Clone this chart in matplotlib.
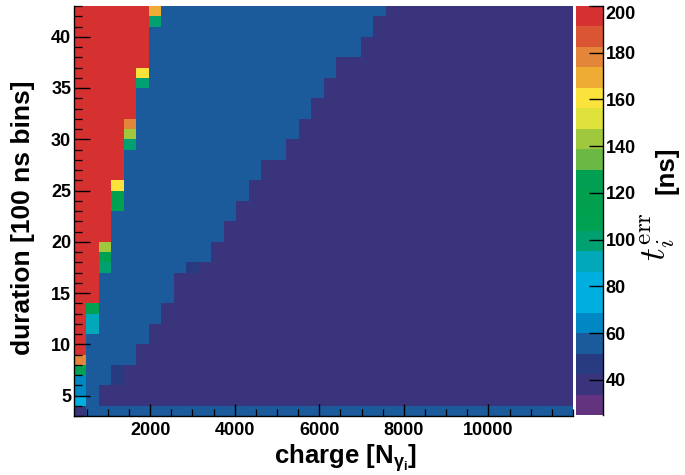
import numpy as np
import matplotlib
matplotlib.use("Agg")
import matplotlib.pyplot as plt
from matplotlib.colors import ListedColormap, BoundaryNorm
from matplotlib.ticker import MultipleLocator

# ---------------- data ----------------
charge_min, charge_max, n_charge_bins = 200, 12000, 40
duration_min, duration_max = 3, 43          # 40 bins of 1 (x100 ns)

# value levels (t_err in ns)
t_saturated = 196   # red, top of scale
t_mid = 55          # blue band
t_low = 38          # dark purple plateau

# per duration row (3..42): number of leading saturated charge bins
red_bins = [0] * 6 + [1] * 5 + [2] * 6 + [3] * 6 + [4] * 6 + [5] * 5 + [6] * 6
# per duration row: first charge bin belonging to the low plateau
plateau_start = [40, 2, 2, 4, 4, 5, 5, 6, 6, 7, 7, 8, 8, 8, 10, 11, 11, 12, 12,
                 13, 13, 14, 14, 15, 15, 17, 17, 18, 18, 19, 19, 20, 20, 21, 21,
                 23, 23, 24, 24, 25]
# individual cells: (charge bin, duration row, value)
cell_bin = [0, 0, 0, 0, 0, 0, 1, 1, 1, 2, 2, 2, 3, 3, 3, 3, 3, 9, 4, 4, 4, 5, 5, 6, 6]
cell_row = [0, 1, 2, 3, 4, 5, 8, 9, 10, 14, 15, 16, 20, 21, 22, 3, 4, 14, 26, 27, 28, 32, 33, 38, 39]
cell_val = [38, 73, 64, 64, 112, 178, 91, 91, 112, 99, 112, 143, 108, 117, 161, 47, 47, 47,
            99, 143, 178, 99, 161, 99, 169]

# colour palette levels (20 contours from 25 to 200)
z_min, z_max, n_levels = 25, 200, 20
palette = ['#62347f', '#39347c', '#283b80', '#1b5a9b', '#0088c4', '#00aee0',
           '#00aedf', '#00a8b9', '#00a070', '#00a150', '#00a04e', '#009f52',
           '#6cb845', '#a0c83d', '#e0e23c', '#fbe33b', '#eeac35', '#e4863a',
           '#da5533', '#d63131']

xticks = [2000, 4000, 6000, 8000, 10000]
yticks = [5, 10, 15, 20, 25, 30, 35, 40]
zticks = [40, 60, 80, 100, 120, 140, 160, 180, 200]

# ---------------- build histogram ----------------
n_rows = duration_max - duration_min
Z = np.full((n_rows, n_charge_bins), float(t_mid))
for r in range(n_rows):
    Z[r, :red_bins[r]] = t_saturated
    Z[r, plateau_start[r]:] = t_low
for b, r, v in zip(cell_bin, cell_row, cell_val):
    Z[r, b] = v

charge_edges = np.linspace(charge_min, charge_max, n_charge_bins + 1)
duration_edges = np.arange(duration_min, duration_max + 1)

# ---------------- figure ----------------
plt.rcParams['font.family'] = ['Liberation Sans', 'DejaVu Sans']
plt.rcParams['font.weight'] = 'bold'

W, H = 685, 475
fig = plt.figure(figsize=(W / 100, H / 100), dpi=100)
ax = fig.add_axes([74 / W, 1 - 416 / H, (573 - 74) / W, (416 - 6) / H])
cax = fig.add_axes([576 / W, 1 - 415 / H, 27 / W, (415 - 6) / H])

cmap = ListedColormap(palette)
norm = BoundaryNorm(np.linspace(z_min, z_max, n_levels + 1), cmap.N)
mesh = ax.pcolormesh(charge_edges, duration_edges, Z, cmap=cmap, norm=norm,
                     edgecolors='face', linewidth=0.0)

ax.set_xlim(charge_min, charge_max)
ax.set_ylim(duration_min, duration_max)
ax.set_xticks(xticks)
ax.set_yticks(yticks)
ax.xaxis.set_minor_locator(MultipleLocator(500))
ax.yaxis.set_minor_locator(MultipleLocator(1))
ax.tick_params(axis='x', which='major', direction='in', length=8.6, width=1.0,
               labelsize=13, pad=4.5)
ax.tick_params(axis='x', which='minor', direction='in', length=4.8, width=0.9)
ax.tick_params(axis='y', which='major', direction='in', length=11.5, width=1.0,
               labelsize=13, pad=2)
ax.tick_params(axis='y', which='minor', direction='in', length=5.5, width=0.9)
ax.tick_params(top=False, right=False, which='both')
for lab in ax.get_xticklabels() + ax.get_yticklabels():
    lab.set_fontweight('bold')
ax.spines['top'].set_visible(False)
ax.spines['right'].set_visible(False)
ax.spines['left'].set_linewidth(1.0)
ax.spines['bottom'].set_linewidth(1.0)

cbar = fig.colorbar(mesh, cax=cax, ticks=zticks)
cbar.outline.set_visible(False)
cax.spines['right'].set_visible(True)
cax.spines['right'].set_linewidth(1.0)
cbar.minorticks_off()
cax.tick_params(direction='in', length=10, width=1.0, labelsize=13, pad=2)
cax.set_yticklabels([str(t) for t in zticks], fontweight='bold')
top_lab = cax.get_yticklabels()[-1]
top_lab.set_va('top')

fig.text(346 / W, 1 - 463 / H, r"charge [N$_{\mathregular{\gamma_{i}}}$]",
         ha='center', va='baseline', fontsize=18.5, fontweight='bold')
fig.text(23 / W, 1 - 218 / H, "duration [100 ns bins]", rotation=90,
         ha='center', va='center', fontsize=19, fontweight='bold')
fig.text(658 / W, 1 - 237 / H, r"$t_{i}^{\rm err}$", rotation=90, ha='center',
         va='center', fontsize=26, math_fontfamily='cm')
fig.text(666 / W, 1 - 170 / H, "[ns]", rotation=90, ha='center', va='center',
         fontsize=18.5, fontweight='bold')

fig.savefig("out.png", dpi=100)
